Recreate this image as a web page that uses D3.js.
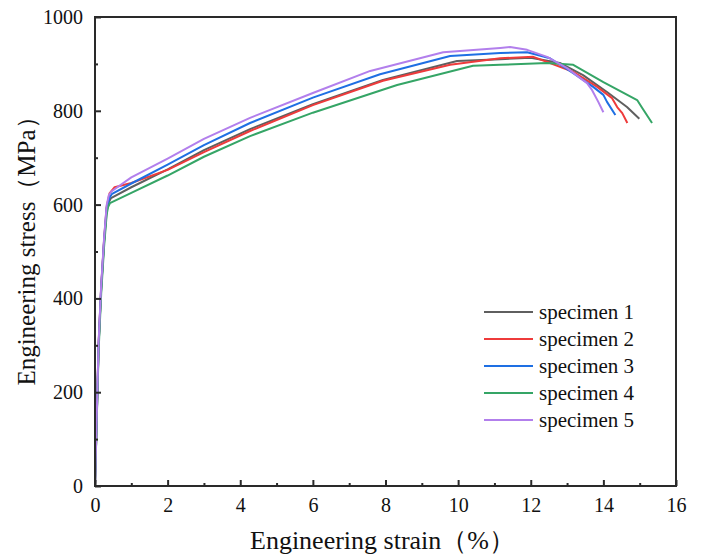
<!DOCTYPE html>
<html><head><meta charset="utf-8">
<script src="https://cdn.jsdelivr.net/npm/d3@7"></script>
<style>body{margin:0;background:#fff}svg{display:block}
svg text{font-family:"Liberation Serif","Tinos","Times New Roman","DejaVu Serif",serif;}</style>
</head><body>
<svg id="c" width="704" height="554"></svg>
<script>
const seriesNames = ["specimen 1","specimen 2","specimen 3","specimen 4","specimen 5"];
const seriesColors = ["#5f5f5f","#ee3b3b","#1e6fe3","#35a566","#b27fec"];
const xTicks = [0,2,4,6,8,10,12,14,16];
const yTicks = [0,200,400,600,800,1000];
const s1 = [[0,0],[0.05,150],[0.1,300],[0.17,420],[0.25,520],[0.32,585],[0.38,605],[0.44,614],[1,637],[2,675],[3,716],[4.27,761],[6,814],[7.93,866],[9.97,906],[11.16,910],[12.0,913],[12.8,902],[13.44,876],[14.1,840],[14.65,808],[14.99,783]];
const s2 = [[0,0],[0.05,155],[0.1,305],[0.17,425],[0.25,525],[0.32,595],[0.4,624],[0.54,637],[1,646],[2,674],[3,712],[4.27,757],[6,812],[7.93,864],[9.78,898],[11.16,912],[12.07,915],[12.53,902],[13.17,883],[13.83,851],[14.24,827],[14.38,808],[14.52,795],[14.66,774]];
const s3 = [[0,0],[0.05,152],[0.1,302],[0.17,423],[0.25,523],[0.32,592],[0.4,615],[0.47,623],[1,645],[2,685],[3,727],[4.27,774],[6,828],[7.85,878],[9.78,917],[11.16,923],[11.9,925],[12.53,912],[13.17,880],[13.72,851],[14.0,834],[14.1,819],[14.33,791]];
const s4 = [[0,0],[0.05,145],[0.1,290],[0.17,410],[0.25,510],[0.32,578],[0.36,595],[0.41,603],[1,625],[2,662],[3,702],[4.27,746],[6,796],[8.32,855],[10.41,896],[11.16,898],[12.45,902],[13.17,898],[14.0,861],[14.93,823],[15.07,806],[15.34,774]];
const s5 = [[0,0],[0.05,155],[0.1,308],[0.17,428],[0.25,528],[0.32,598],[0.38,620],[0.45,628],[1,658],[2,698],[3,740],[4.27,785],[6,838],[7.58,885],[9.59,925],[11.16,934],[11.43,936],[11.9,930],[12.45,915],[13.0,891],[13.55,859],[13.69,844],[13.86,819],[14.0,797]];
const seriesData = [s1,s2,s3,s4,s5];

const svg = d3.select("#c");
const L=95,R=676,T=17,B=486;
const x = d3.scaleLinear().domain([0,16]).range([L,R]);
const y = d3.scaleLinear().domain([0,1000]).range([B,T]);
const font = '"Liberation Serif","Tinos","Times New Roman","DejaVu Serif",serif';

const line = d3.line().x(d=>x(d[0])).y(d=>y(d[1]));
seriesData.forEach((d,i)=>{
  svg.append("path").datum(d).attr("d",line).attr("fill","none")
    .attr("stroke",seriesColors[i]).attr("stroke-width",2).attr("stroke-linejoin","round");
});

svg.append("rect").attr("x",L).attr("y",T).attr("width",R-L).attr("height",B-T)
  .attr("fill","none").attr("stroke","#2a2a2a").attr("stroke-width",2);

const xAxis = d3.axisBottom(x).tickValues(xTicks).tickSize(-6).tickPadding(12).tickFormat(d3.format("d"));
const gx = svg.append("g").attr("transform",`translate(0,${B})`).call(xAxis);
gx.attr("font-family",null).attr("font-size",null);
gx.select(".domain").remove();
gx.selectAll("line").attr("stroke","#2a2a2a").attr("stroke-width",2);
gx.selectAll("text").style("font-family",font).style("font-size","20px").attr("fill","#111");
const gxm = svg.append("g").attr("transform",`translate(0,${B})`)
  .call(d3.axisBottom(x).tickValues(d3.range(1,16,2)).tickSize(-3).tickFormat(""));
gxm.select(".domain").remove();
gxm.selectAll("line").attr("stroke","#2a2a2a").attr("stroke-width",2);

const yAxis = d3.axisLeft(y).tickValues(yTicks).tickSize(-6).tickPadding(12).tickFormat(d3.format("d"));
const gy = svg.append("g").attr("transform",`translate(${L},0)`).call(yAxis);
gy.attr("font-family",null).attr("font-size",null);
gy.select(".domain").remove();
gy.selectAll("line").attr("stroke","#2a2a2a").attr("stroke-width",2);
gy.selectAll("text").style("font-family",font).style("font-size","20px").attr("fill","#111");
const gym = svg.append("g").attr("transform",`translate(${L},0)`)
  .call(d3.axisLeft(y).tickValues(d3.range(100,1000,200)).tickSize(-3).tickFormat(""));
gym.select(".domain").remove();
gym.selectAll("line").attr("stroke","#2a2a2a").attr("stroke-width",2);

svg.append("text").attr("x",250).attr("y",549).attr("text-anchor","start")
  .style("font-family",font).style("font-size","26px").attr("fill","#111").text("Engineering strain（%）");
svg.append("text").attr("transform",`translate(35,245) rotate(-90)`).attr("text-anchor","middle")
  .style("font-family",font).style("font-size","25px").attr("fill","#111").text("Engineering stress（MPa）");

const lg = svg.append("g");
seriesNames.forEach((n,i)=>{
  const yy = 312 + i*27;
  lg.append("line").attr("x1",484).attr("x2",533).attr("y1",yy).attr("y2",yy)
    .attr("stroke",seriesColors[i]).attr("stroke-width",2);
  lg.append("text").attr("x",539).attr("y",yy).attr("dy","0.35em")
    .style("font-family",font).style("font-size","21px").attr("fill","#111").text(n);
});
</script>
</body></html>
